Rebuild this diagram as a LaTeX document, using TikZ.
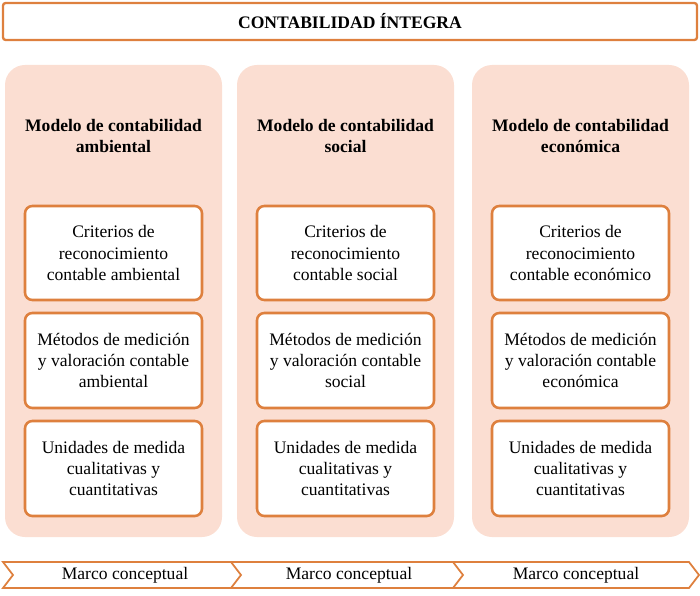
\documentclass[tikz,border=0pt]{standalone}
\usepackage{fontspec}
\setmainfont{Liberation Serif}
\usetikzlibrary{positioning,calc}
\definecolor{borange}{RGB}{222,128,62}
\definecolor{bpeach}{RGB}{251,222,210}
\tikzset{
  colbox/.style={fill=bpeach, rounded corners=0.6cm},
  itembox/.style={draw=borange, line width=2.2pt, fill=white, rounded corners=0.22cm},
  itemtext/.style={align=center, font=\fontsize{15}{18}\selectfont},
  headtext/.style={align=center, font=\bfseries\fontsize{15}{18.5}\selectfont},
  chevron/.style={draw=borange, line width=1.5pt, fill=white}
}
\begin{document}
\begin{tikzpicture}[x=0.03cm, y=-0.03cm]
  \useasboundingbox (0,0) rectangle (700,596);
  % title bar
  \draw[draw=borange, line width=2pt, rounded corners=0.08cm] (3,3) rectangle (697,40);
  \node[headtext] (title) at (350,21) {CONTABILIDAD ÍNTEGRA};
  % columns
  \foreach \x/\n/\h/\a/\b/\c in {5/amb/ambiental/ambiental/ambiental/ambiental,
      237/soc/social/social/social/social,
      472/eco/económica/económico/económica/económica}{
    \fill[colbox] (\x,65) rectangle ++(217,472);
    \node[headtext] (head\n) at (\x+108.5,136) {Modelo de contabilidad\\ \h};
    \draw[itembox] (\x+20,206) rectangle ++(177,94);
    \node[itemtext] (crit\n) at (\x+108.5,253) {Criterios de\\ reconocimiento\\ contable \a};
    \draw[itembox] (\x+20,313) rectangle ++(177,95);
    \node[itemtext] (met\n) at (\x+108.5,360.5) {Métodos de medición\\ y valoración contable\\ \b};
    \draw[itembox] (\x+20,421) rectangle ++(177,95);
    \node[itemtext] (uni\n) at (\x+108.5,468.5) {Unidades de medida\\ cualitativas y\\ cuantitativas};
  }
  % bottom chevrons
  \foreach \x/\w/\n in {3/234/a, 231/226/b, 453/236/c}{
    \draw[chevron] (\x,562) -- ++(\w,0) -- ++(10,13) -- ++(-10,13) -- ++(-\w,0)
      -- ++(10,-13) -- cycle;
    \node[itemtext] (marco\n) at (\x+5+\w/2,575) {Marco conceptual};
  }
\end{tikzpicture}
\end{document}
